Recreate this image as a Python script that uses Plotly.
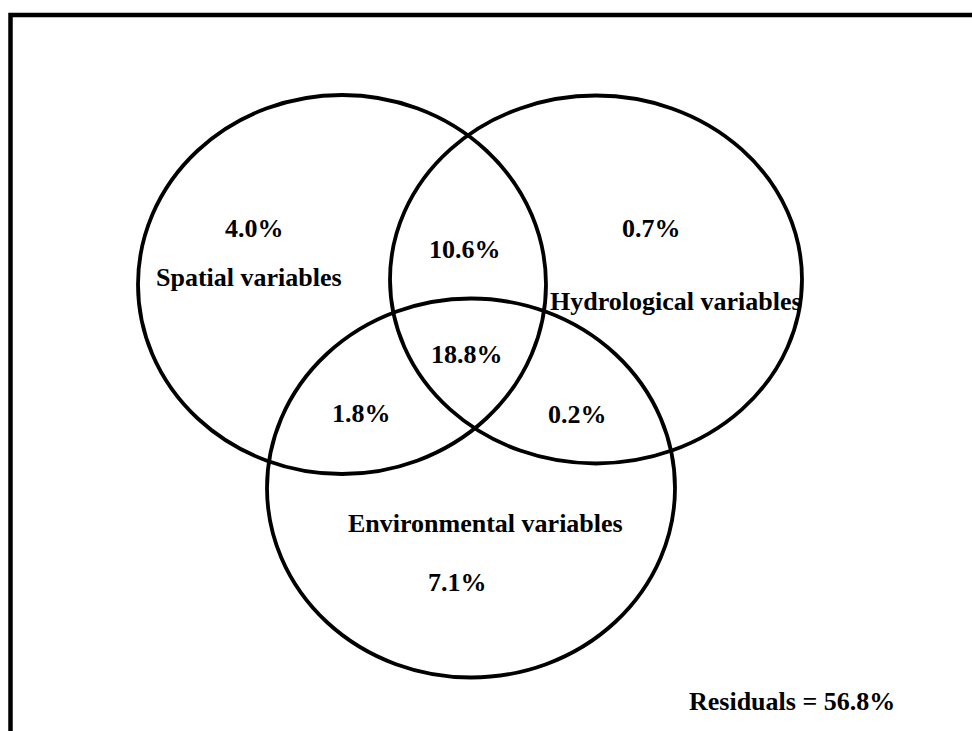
import plotly.graph_objects as go

# ---- data ----
set_names = ["Spatial variables", "Hydrological variables", "Environmental variables"]
unique_pct = [4.0, 0.7, 7.1]            # spatial only, hydrological only, environmental only
pair_labels = ["Spatial∩Hydrological", "Spatial∩Environmental", "Hydrological∩Environmental"]
pair_pct = [10.6, 1.8, 0.2]
all_three_pct = 18.8
residual_pct = 56.8

# ---- layout geometry (pixel space) ----
W, H = 972, 731
circles = [  # (cx, cy, rx, ry)
    (342, 284.5, 204, 189.5),
    (596, 279.5, 206, 184),
    (471, 488, 204, 189.5),
]
name_pos = [(249, 277), (676, 301), (485, 523)]
unique_pos = [(254, 228), (651, 228), (457, 582)]
pair_pos = [(465, 249), (361, 413), (577, 414)]
all_pos = (467, 354)
resid_pos = (792, 701)

FONT = dict(family="Liberation Serif, Times New Roman, serif", size=26, color="black")

fig = go.Figure()
fig.add_trace(go.Scatter(x=[0, W], y=[0, H], mode="markers",
                         marker=dict(opacity=0), hoverinfo="skip", showlegend=False))

shapes = []
shapes.append(dict(type="rect", xref="x", yref="y", x0=10.5, y0=15, x1=W + 20, y1=H + 20,
                   line=dict(color="black", width=4.5)))
for cx, cy, rx, ry in circles:
    shapes.append(dict(type="circle", xref="x", yref="y",
                       x0=cx - rx, x1=cx + rx, y0=cy - ry, y1=cy + ry,
                       line=dict(color="black", width=3.8)))

ann = []
def txt(s, pos):
    ann.append(dict(x=pos[0], y=pos[1], xref="x", yref="y", text="<b>" + s + "</b>",
                    showarrow=False, font=FONT, xanchor="center", yanchor="middle"))

for n, p in zip(set_names, name_pos):
    txt(n, p)
for v, p in zip(unique_pct, unique_pos):
    txt(f"{v:.1f}%", p)
for v, p in zip(pair_pct, pair_pos):
    txt(f"{v:.1f}%", p)
txt(f"{all_three_pct:.1f}%", all_pos)
txt(f"Residuals = {residual_pct:.1f}%", resid_pos)

fig.update_layout(
    width=W, height=H, margin=dict(l=0, r=0, t=0, b=0),
    paper_bgcolor="white", plot_bgcolor="white",
    xaxis=dict(range=[0, W], visible=False, fixedrange=True),
    yaxis=dict(range=[H, 0], visible=False, fixedrange=True),
    shapes=shapes, annotations=ann, showlegend=False,
)

fig.write_html("out.html", config={"displayModeBar": False},
               post_script="document.body.style.margin='0';document.body.style.overflow='hidden';")
